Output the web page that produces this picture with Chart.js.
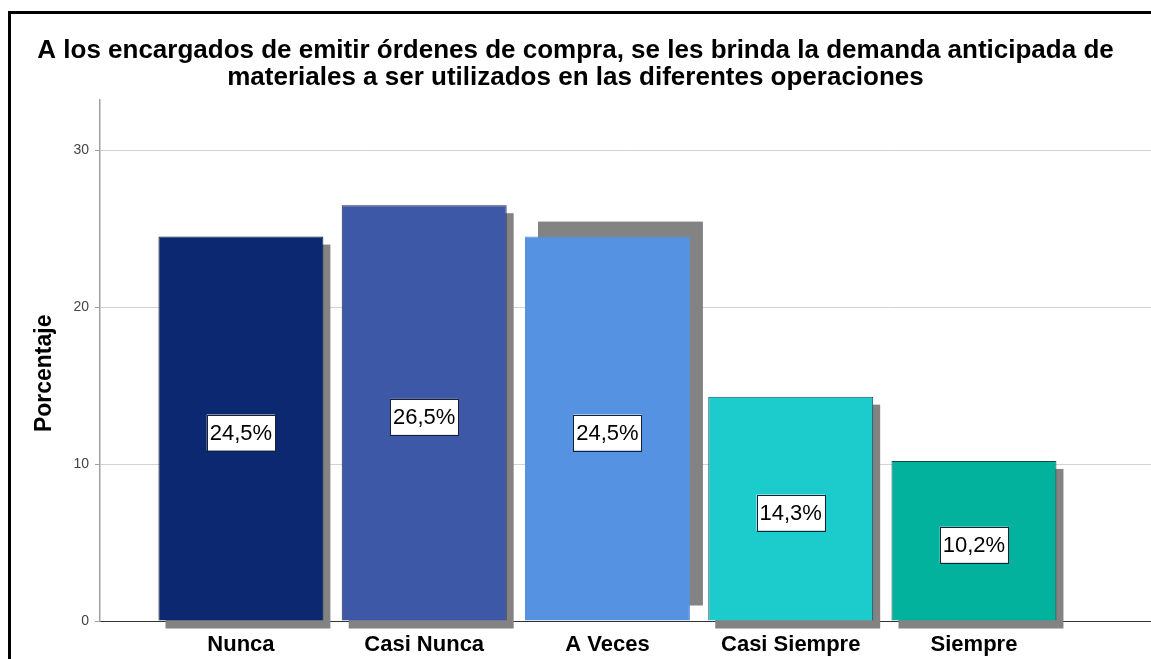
<!DOCTYPE html>
<html>
<head>
<meta charset="utf-8">
<script src="https://cdn.jsdelivr.net/npm/chart.js@4.4.1/dist/chart.umd.min.js"></script>
<style>
  html, body { margin: 0; padding: 0; background: #fff; overflow: hidden; }
  #frame { position: absolute; left: 8px; top: 11px; width: 2000px; height: 2000px;
           border-top: 3px solid #000; border-left: 3px solid #000; }
  #wrap { position: absolute; left: 0; top: 0; width: 1151px; height: 659px; }
</style>
</head>
<body>
<div id="frame"></div>
<div id="wrap"><canvas id="myChart" width="1151" height="659"></canvas></div>
<script>
// chart data
var categorias = ['Nunca', 'Casi Nunca', 'A Veces', 'Casi Siempre', 'Siempre'];
var porcentajes = [24.5, 26.5, 24.5, 14.3, 10.2];
var yTicks = [0, 10, 20, 30];
var titulo = [
    'A los encargados de emitir órdenes de compra, se les brinda la demanda anticipada de',
    'materiales a ser utilizados en las diferentes operaciones'
];

// styles
var colores = ['#0b2870', '#3e58a8', '#5592e2', '#1ccccc', '#02b29c'];
var bordes = ['#111830', '#1c2650', '#5592e2', '#1b4f55', '#124a44'];
var sombras = [[7, 8], [7, 8], [13, -15], [7, 8], [7, 8]];
var fuente = "'Liberation Sans', Arial, sans-serif";

// gray drop shadow behind every bar
var shadowPlugin = {
    id: 'barShadow',
    beforeDatasetsDraw: function (chart) {
        var ctx = chart.ctx;
        var meta = chart.getDatasetMeta(0);
        ctx.save();
        ctx.fillStyle = '#838383';
        meta.data.forEach(function (bar, i) {
            var w = bar.width;
            var off = sombras[i];
            ctx.fillRect(bar.x - w / 2 + off[0], bar.y + off[1], w, bar.base - bar.y);
        });
        ctx.restore();
    }
};

// white boxed percentage in the middle of each bar
var labelPlugin = {
    id: 'boxLabels',
    afterDatasetsDraw: function (chart) {
        var ctx = chart.ctx;
        var meta = chart.getDatasetMeta(0);
        ctx.save();
        ctx.font = '22px ' + fuente;
        ctx.textAlign = 'center';
        ctx.textBaseline = 'middle';
        meta.data.forEach(function (bar, i) {
            var txt = porcentajes[i].toFixed(1).replace('.', ',') + '%';
            var tw = ctx.measureText(txt).width;
            var cx = bar.x;
            var cy = (bar.y + bar.base) / 2 + 4;
            var bw = tw + 6, bh = 36;
            ctx.fillStyle = '#fff';
            ctx.fillRect(cx - bw / 2, cy - bh / 2, bw, bh);
            ctx.strokeStyle = '#1a2030';
            ctx.lineWidth = 1;
            ctx.strokeRect(Math.round(cx - bw / 2) + 0.5, Math.round(cy - bh / 2) + 0.5, Math.round(bw), bh);
            ctx.fillStyle = '#000';
            ctx.fillText(txt, cx, cy + 1);
        });
        ctx.restore();
    }
};

document.addEventListener('DOMContentLoaded', function () {
    var ctx = document.getElementById('myChart').getContext('2d');
    var myChart = new Chart(ctx, {
        type: 'bar',
        data: {
            datasets: [{
                data: categorias.map(function (c, i) { return { x: i, y: porcentajes[i] }; }),
                backgroundColor: colores,
                borderColor: bordes,
                borderWidth: 1,
                categoryPercentage: 1,
                barPercentage: 0.9
            }]
        },
        options: {
            responsive: false,
            animation: false,
            layout: { padding: 0 },
            scales: {
                x: {
                    type: 'linear',
                    offset: false,
                    min: -0.769,
                    max: 4.966,
                    afterBuildTicks: function (scale) {
                        scale.ticks = categorias.map(function (c, i) { return { value: i }; });
                    },
                    afterFit: function (scale) { scale.height = 38; },
                    grid: { display: false, drawTicks: false },
                    border: { display: true, color: '#333', width: 1 },
                    ticks: {
                        autoSkip: false,
                        maxRotation: 0,
                        padding: 11,
                        color: '#000',
                        font: { family: fuente, size: 22, weight: 'bold' },
                        callback: function (v) { return categorias[v]; }
                    }
                },
                y: {
                    min: 0,
                    max: 33.2,
                    afterBuildTicks: function (scale) {
                        scale.ticks = yTicks.map(function (v) { return { value: v }; });
                    },
                    afterFit: function (scale) { scale.width = 100; },
                    grid: {
                        color: function (c) { return c.tick && c.tick.value === 0 ? 'rgba(0,0,0,0)' : '#d2d2d2'; },
                        tickColor: '#a0a0a0',
                        tickLength: 5
                    },
                    border: { display: true, color: '#a0a0a0', width: 1.5 },
                    ticks: {
                        padding: 6,
                        color: '#444',
                        font: { family: fuente, size: 14 }
                    },
                    title: {
                        display: true,
                        text: 'Porcentaje    ',
                        color: '#000',
                        padding: { top: 31, bottom: 0 },
                        font: { family: fuente, size: 23, weight: 'bold' }
                    }
                }
            },
            plugins: {
                legend: { display: false },
                tooltip: { enabled: false },
                title: {
                    display: true,
                    text: titulo,
                    color: '#000',
                    padding: { top: 37, bottom: 9 },
                    font: { family: fuente, size: 26, weight: 'bold', lineHeight: 1.04 }
                }
            }
        },
        plugins: [shadowPlugin, labelPlugin]
    });
});
</script>
</body>
</html>
